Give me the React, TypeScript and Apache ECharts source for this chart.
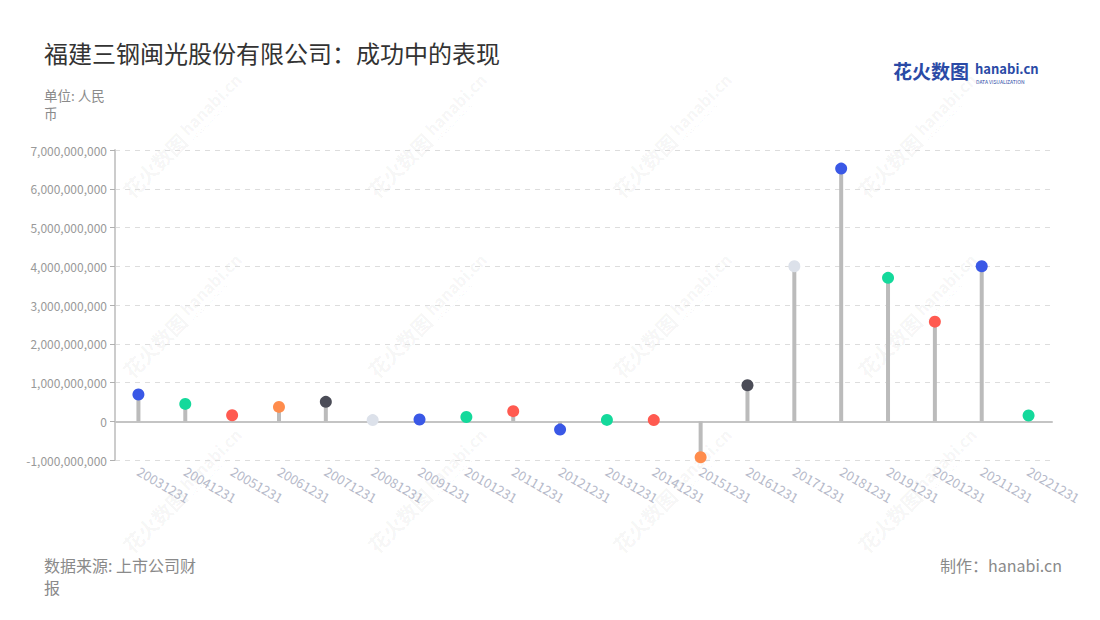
import React, { useEffect, useRef } from "react";
import * as echarts from "echarts";

const categories = [
  "20031231", "20041231", "20051231", "20061231", "20071231",
  "20081231", "20091231", "20101231", "20111231", "20121231",
  "20131231", "20141231", "20151231", "20161231", "20171231",
  "20181231", "20191231", "20201231", "20211231", "20221231",
];

const values = [
  690000000, 447000000, 155000000, 370000000, 500000000,
  30000000, 45000000, 110000000, 260000000, -215000000,
  35000000, 30000000, -930000000, 930000000, 4000000000,
  6520000000, 3700000000, 2570000000, 4000000000, 147000000,
];

const palette = ["#3a58e6", "#14d99b", "#ff5a50", "#ff8c4c", "#4b4c57", "#dce1ea", "#3a58e6", "#14d99b", "#ff5a50"];
const pointColors = categories.map((_, i) => palette[i % palette.length]);

const yMin = -1000000000;
const yMax = 7000000000;
const yInterval = 1000000000;

const title = "福建三钢闽光股份有限公司：成功中的表现";
const unitLines = ["单位: 人民", "币"];
const sourceLines = ["数据来源: 上市公司财", "报"];
const creditText = "制作：hanabi.cn";

const wmX = [180, 425, 670, 915];
const wmY = [140, 320, 495];

const FONT = "'Noto Sans CJK SC', 'Noto Sans', sans-serif";

function watermark(cx: number, cy: number) {
  return {
    type: "group",
    x: cx,
    y: cy,
    rotation: Math.PI / 4,
    silent: true,
    z: 1,
    children: [
      {
        type: "text",
        x: -76,
        y: 0,
        style: {
          text: "花火数图",
          font: `bold 20px ${FONT}`,
          fill: "rgba(0,0,0,0.05)",
          textVerticalAlign: "middle",
        },
      },
      {
        type: "text",
        x: 8,
        y: -4,
        style: {
          text: "hanabi.cn",
          font: `bold 16px ${FONT}`,
          fill: "rgba(0,0,0,0.05)",
          textVerticalAlign: "middle",
        },
      },
      {
        type: "text",
        x: 9,
        y: 8,
        style: {
          text: "DATA VISUALIZATION",
          font: `5px ${FONT}`,
          fill: "rgba(0,0,0,0.06)",
          textVerticalAlign: "middle",
        },
      },
    ],
  };
}

export default function App() {
  const ref = useRef<HTMLDivElement>(null);

  useEffect(() => {
    document.body.style.margin = "0";
    if (!ref.current) return;
    const chart = echarts.init(ref.current, undefined, { renderer: "svg" });

    const watermarks: any[] = [];
    wmX.forEach((x) => wmY.forEach((y) => watermarks.push(watermark(x, y))));

    chart.setOption({
      animation: false,
      backgroundColor: "#ffffff",
      textStyle: { fontFamily: FONT },
      grid: { left: 115, right: 48, top: 150, bottom: 160, containLabel: false },
      xAxis: {
        type: "category",
        data: categories,
        boundaryGap: true,
        axisLine: { lineStyle: { color: "#c4c4c4", width: 2 } },
        axisTick: { alignWithLabel: true, length: 5, lineStyle: { color: "#b0b0b0" } },
        axisLabel: {
          rotate: -30,
          color: "#b5b9c9",
          fontSize: 13,
          margin: 10,
          interval: 0,
          fontFamily: FONT,
        },
      },
      yAxis: {
        type: "value",
        min: yMin,
        max: yMax,
        interval: yInterval,
        axisLine: { show: true, lineStyle: { color: "#cccccc", width: 2 } },
        axisTick: { show: true, length: 5, lineStyle: { color: "#b0b0b0" } },
        axisLabel: {
          color: "#999999",
          fontSize: 12,
          margin: 8,
          fontFamily: FONT,
          formatter: (v: number) => v.toLocaleString("en-US"),
        },
        splitLine: { show: true, lineStyle: { color: "#dddddd", type: [5, 5], width: 1 } },
      },
      series: [
        {
          type: "bar",
          data: values,
          barWidth: 4,
          itemStyle: { color: "#bbbbbb" },
          z: 2,
          silent: true,
        },
        {
          type: "scatter",
          data: values.map((v, i) => ({ value: v, itemStyle: { color: pointColors[i], opacity: 1 } })),
          symbol: "circle",
          symbolSize: 12,
          itemStyle: { opacity: 1 },
          z: 3,
          silent: true,
        },
      ],
      graphic: [
        ...watermarks,
        {
          type: "text",
          left: 44,
          top: 40,
          style: { text: title, font: `24px ${FONT}`, fill: "#333333" },
        },
        {
          type: "text",
          left: 44,
          top: 88,
          style: { text: unitLines[0], font: `13.5px ${FONT}`, fill: "#8a8a8a" },
        },
        {
          type: "text",
          left: 44,
          top: 106,
          style: { text: unitLines[1], font: `13.5px ${FONT}`, fill: "#8a8a8a" },
        },
        {
          type: "text",
          left: 44,
          top: 557,
          style: { text: sourceLines[0], font: `16px ${FONT}`, fill: "#8a8a8a" },
        },
        {
          type: "text",
          left: 44,
          top: 579,
          style: { text: sourceLines[1], font: `16px ${FONT}`, fill: "#8a8a8a" },
        },
        {
          type: "text",
          right: 38,
          top: 557,
          style: { text: creditText, font: `16px ${FONT}`, fill: "#8a8a8a" },
        },
        {
          type: "text",
          left: 893,
          top: 61,
          style: { text: "花火数图", font: `bold 19px ${FONT}`, fill: "#2a4aa6" },
        },
        {
          type: "text",
          left: 975,
          top: 62,
          style: { text: "hanabi.cn", font: `bold 13px ${FONT}`, fill: "#2a4aa6" },
        },
        {
          type: "text",
          left: 976,
          top: 79,
          style: { text: "DATA VISUALIZATION", font: `5px ${FONT}`, fill: "#2a4aa6" },
        },
      ],
    });

    return () => chart.dispose();
  }, []);

  return <div ref={ref} style={{ width: 1100, height: 620 }} />;
}
